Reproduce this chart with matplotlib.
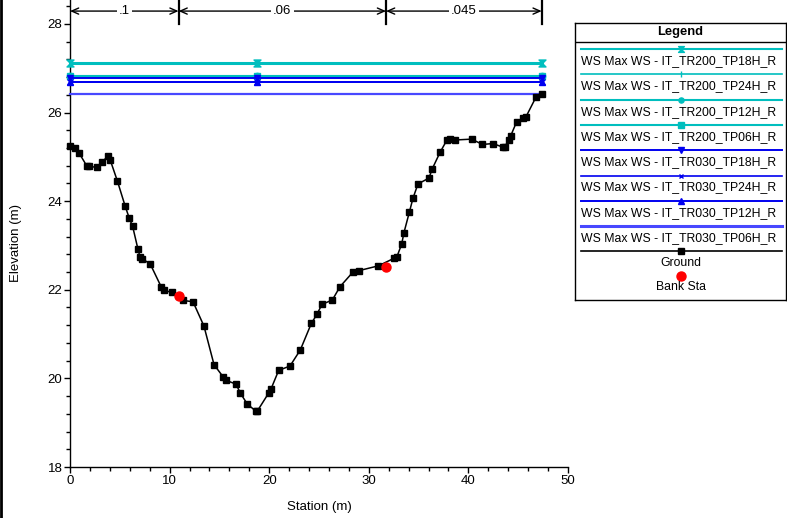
import matplotlib
matplotlib.use("Agg")
import matplotlib.pyplot as plt
from matplotlib.ticker import MultipleLocator
from matplotlib.lines import Line2D
from matplotlib.path import Path

plt.rcParams['font.family'] = ['Liberation Sans', 'DejaVu Sans']

# ---- data ----
ground_sta = [0.0, 0.53, 0.93, 1.67, 1.9, 2.68, 3.21, 3.78, 4.02, 4.75, 5.55, 5.96, 6.29,
              6.83, 7.03, 7.26, 8.06, 9.17, 9.44, 10.2, 11.31, 12.35, 13.45, 14.46, 15.39,
              15.63, 16.67, 17.1, 17.8, 18.67, 18.8, 19.95, 20.18, 20.95, 22.09, 23.12,
              24.23, 24.8, 25.3, 26.34, 27.11, 28.45, 28.98, 30.96, 32.53, 32.83, 33.3,
              33.53, 34.07, 34.44, 34.94, 36.04, 36.35, 37.15, 37.82, 38.19, 38.65, 40.33,
              41.4, 42.47, 43.44, 43.64, 44.04, 44.24, 44.84, 45.45, 45.75, 46.79, 47.36]
ground_elev = [25.25, 25.19, 25.08, 24.80, 24.79, 24.76, 24.88, 25.01, 24.94, 24.46, 23.88,
               23.61, 23.43, 22.91, 22.74, 22.70, 22.58, 22.06, 21.99, 21.94, 21.76, 21.73,
               21.18, 20.31, 20.03, 19.96, 19.87, 19.67, 19.42, 19.26, 19.26, 19.67, 19.76,
               20.18, 20.28, 20.64, 21.24, 21.45, 21.67, 21.77, 22.07, 22.41, 22.43, 22.54,
               22.71, 22.75, 23.03, 23.29, 23.75, 24.07, 24.39, 24.52, 24.72, 25.10, 25.37,
               25.41, 25.38, 25.40, 25.28, 25.30, 25.22, 25.22, 25.38, 25.47, 25.79, 25.87,
               25.89, 26.35, 26.41]
bank_sta = [10.9, 31.73]
bank_elev = [21.85, 22.52]

ws_names = ["WS Max WS - IT_TR200_TP18H_R", "WS Max WS - IT_TR200_TP24H_R",
            "WS Max WS - IT_TR200_TP12H_R", "WS Max WS - IT_TR200_TP06H_R",
            "WS Max WS - IT_TR030_TP18H_R", "WS Max WS - IT_TR030_TP24H_R",
            "WS Max WS - IT_TR030_TP12H_R", "WS Max WS - IT_TR030_TP06H_R"]
ws_levels = [27.12, 27.12, 26.82, 26.82, 26.78, 26.69, 26.69, 26.42]
ws_sta = [0.0, 18.8, 47.36]

n_breaks = [0.0, 10.9, 31.73, 47.36]
n_labels = [".1", ".06", ".045"]

# ---- styles ----
hourglass = Path([(-1, 1), (1, 1), (-1, -1), (1, -1), (-1, 1)],
                 [Path.MOVETO, Path.LINETO, Path.LINETO, Path.LINETO, Path.CLOSEPOLY])
cyan = '#00BEBE'
blue = '#0000F0'
ws_colors = [cyan, cyan, cyan, cyan, blue, blue, blue, '#4848FF']
ws_markers = [hourglass, '|', 'o', 's', 'v', 'x', '^', None]
ws_ms = [5, 5, 4.5, 4.5, 4.5, 4, 4.5, 0]
ws_lw = [2.2, 1.2, 2.2, 2.2, 1.4, 1.2, 1.4, 1.6]

FS = 9.5
fig = plt.figure(figsize=(7.87, 5.18), dpi=100)
ax = fig.add_axes([70/787, 1 - 467/518, (568-70)/787, 467/518])

for lvl, c, m, ms, lw in zip(ws_levels, ws_colors, ws_markers, ws_ms, ws_lw):
    ax.plot(ws_sta, [lvl]*len(ws_sta), color=c, lw=lw, marker=m, ms=ms,
            mec=c, mfc=c, mew=1, clip_on=False, zorder=3)

ax.plot(ground_sta, ground_elev, color='black', lw=1.1, marker='s', ms=4.3,
        mfc='black', mec='black', zorder=4, clip_on=False)
ax.plot(bank_sta, bank_elev, 'o', color='#FF0000', ms=6.5, zorder=5, mec='#FF0000')

ax.set_xlim(0, 50)
ax.set_ylim(18, 28.54)
ax.xaxis.set_major_locator(MultipleLocator(10))
ax.xaxis.set_minor_locator(MultipleLocator(2))
ax.yaxis.set_major_locator(MultipleLocator(2))
ax.yaxis.set_minor_locator(MultipleLocator(0.4))
ax.tick_params(which='major', direction='out', length=4, width=1, labelsize=FS, pad=1.5)
ax.tick_params(which='minor', direction='out', length=3, width=1)
for s in ['top', 'right']:
    ax.spines[s].set_visible(False)
for s in ['left', 'bottom']:
    ax.spines[s].set_linewidth(1.0)

ax.set_xlabel("Station (m)", fontsize=FS)
ax.xaxis.set_label_coords(0.5, -0.072)
ax.set_ylabel("Elevation (m)", fontsize=FS)
ax.yaxis.set_label_coords(-0.097, 0.48)

# Manning's n annotation
y_ann = 28.29
for xb in n_breaks[1:]:
    ax.plot([xb, xb], [28.0, 28.54], color='black', lw=1.6, clip_on=False, zorder=6)
for i, lab in enumerate(n_labels):
    x0, x1 = n_breaks[i], n_breaks[i+1]
    ax.annotate('', xy=(x0, y_ann), xytext=(x1, y_ann),
                arrowprops=dict(arrowstyle='<->,head_length=0.5,head_width=0.22',
                                color='black', lw=1, shrinkA=0, shrinkB=0),
                annotation_clip=False)
    ax.text((x0 + x1) / 2, y_ann, lab, ha='center', va='center', fontsize=FS,
            bbox=dict(facecolor='white', edgecolor='none', pad=1.5), zorder=7, clip_on=False)

# ---- legend box ----
lx0, ly0, lx1, ly1 = 575, 23, 786, 300
lax = fig.add_axes([lx0/787, 1 - ly1/518, (lx1-lx0)/787, (ly1-ly0)/518])
lax.set_xlim(0, lx1 - lx0)
lax.set_ylim(ly1 - ly0, 0)
lax.set_xticks([])
lax.set_yticks([])
for s in lax.spines.values():
    s.set_linewidth(1.0)
lax.text(105, 9.5, "Legend", ha='center', va='center', fontsize=9.3, fontweight='bold')
lax.plot([0, 211], [19, 19], color='black', lw=1)
xm = 106
LFS = 8.8
for i, (name, c, m, ms, lw) in enumerate(zip(ws_names, ws_colors, ws_markers, ws_ms, ws_lw)):
    yl = 26 + 25.3 * i
    lax.plot([6, 207], [yl, yl], color=c, lw=min(lw, 1.5) if m is not None else 2.2)
    if m is not None:
        lax.plot([xm], [yl], marker=m, color=c, ms=max(ms - 0.8, 3), mec=c, mfc=c)
    lax.text(6, yl + 12, name, ha='left', va='center', fontsize=LFS)
yg = 26 + 25.3 * 8
lax.plot([6, 207], [yg, yg], color='black', lw=1.2)
lax.plot([xm], [yg], marker='s', color='black', ms=4.3)
lax.text(xm, yg + 11.5, "Ground", ha='center', va='center', fontsize=LFS)
lax.plot([xm], [yg + 24.5], 'o', color='#FF0000', ms=6.5)
lax.text(xm, yg + 36, "Bank Sta", ha='center', va='center', fontsize=LFS)

# left border of figure
fig.add_artist(Line2D([0.0015, 0.0015], [0, 1], transform=fig.transFigure, color='black', lw=2))

fig.savefig("out.png", dpi=100)
